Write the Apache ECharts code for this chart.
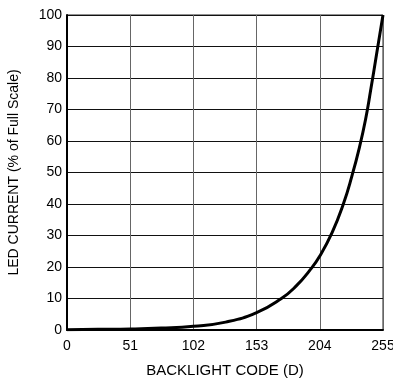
<!DOCTYPE html>
<html>
<head>
<meta charset="utf-8">
<script src="https://cdn.jsdelivr.net/npm/echarts@6/dist/echarts.min.js"></script>
<style>
  html, body { margin: 0; padding: 0; background: #fff; }
  #chart { width: 393px; height: 383px; }
</style>
</head>
<body>
<div id="chart"></div>
<script>
// backlight code (D) vs LED current (% of full scale)
var codes = [0, 25, 51, 76, 102, 128, 153, 173, 185, 196, 204, 214, 223, 230, 236, 241, 245, 250, 255];
var current = [0.1, 0.2, 0.3, 0.6, 1.2, 2.5, 5.5, 10, 14, 19, 23.5, 31, 40, 49, 58, 67, 76, 88, 100];

var xTicks = [0, 51, 102, 153, 204, 255];

var points = [];
for (var i = 0; i < codes.length; i++) {
    points.push([codes[i], current[i]]);
}

var chart = echarts.init(document.getElementById('chart'));
var font = 'Liberation Sans, Arial, sans-serif';

var option = {
    animation: false,
    grid: {
        left: 67, right: 10, top: 15, bottom: 53,
        outerBoundsMode: 'none',
        show: true, borderColor: '#222', borderWidth: 1
    },
    xAxis: {
        type: 'value',
        min: xTicks[0],
        max: xTicks[xTicks.length - 1],
        interval: 51,
        name: 'BACKLIGHT CODE (D)',
        nameLocation: 'middle',
        nameGap: 33,
        nameTextStyle: { color: '#000', fontSize: 15, fontFamily: font },
        axisLine: { show: true, lineStyle: { color: '#000', width: 2 } },
        axisTick: { show: false },
        axisLabel: { color: '#000', fontSize: 14, fontFamily: font, margin: 9 },
        splitLine: { show: true, lineStyle: { color: '#666', width: 1 } }
    },
    yAxis: {
        type: 'value',
        min: 0,
        max: 100,
        interval: 10,
        name: 'LED CURRENT (% of Full Scale)',
        nameLocation: 'middle',
        nameGap: 46,
        nameTextStyle: { color: '#000', fontSize: 14, fontFamily: font },
        axisLine: { show: true, lineStyle: { color: '#000', width: 2 } },
        axisTick: { show: false },
        axisLabel: { color: '#000', fontSize: 14, fontFamily: font, margin: 5 },
        splitLine: { show: true, lineStyle: { color: '#111', width: 1 } }
    },
    series: [
        {
            type: 'line',
            data: points,
            smooth: 0.5,
            showSymbol: false,
            lineStyle: { color: '#000', width: 3 }
        }
    ]
};

chart.setOption(option);
</script>
</body>
</html>
